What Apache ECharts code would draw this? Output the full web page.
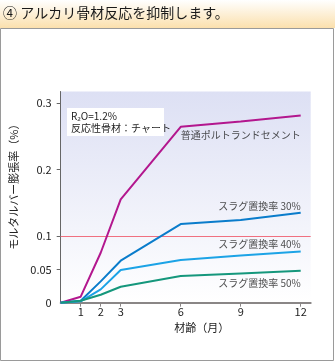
<!DOCTYPE html>
<html><head><meta charset="utf-8">
<script src="https://cdn.jsdelivr.net/npm/echarts@6/dist/echarts.min.js"></script>
<style>html,body{margin:0;padding:0;background:#fff}#c{width:335px;height:361px}</style>
</head><body><div id="c"></div>
<script>
const months = [0, 1, 2, 3, 6, 9, 12];
const opc = [0, 0.009, 0.075, 0.155, 0.264, 0.272, 0.281];
const slag30 = [0, 0.003, 0.032, 0.063, 0.118, 0.124, 0.135];
const slag40 = [0, 0.002, 0.020, 0.049, 0.064, 0.071, 0.077];
const slag50 = [0, 0.003, 0.012, 0.024, 0.040, 0.044, 0.048];
const seriesNames = ['普通ポルトランドセメント', 'スラグ置換率 30%', 'スラグ置換率 40%', 'スラグ置換率 50%'];
const xTicks = [1, 2, 3, 6, 9, 12];
const yTicks = [0, 0.05, 0.1, 0.2, 0.3];
const refLine = 0.1;
const titleText = '④ アルカリ骨材反応を抑制します。';
const noteLines = ['R₂O=1.2%', '反応性骨材：チャート'];

const font = '"Noto Sans CJK JP", "Noto Sans", sans-serif';
const colors = ['#b3178e', '#0a7ccb', '#1ca3e6', '#15977c'];
const labelDy = [20, -7, -7, 12];
const allData = [opc, slag30, slag40, slag50];

const chart = echarts.init(document.getElementById('c'), null, {renderer: 'canvas'});
const series = [];
allData.forEach((vals, i) => {
  series.push({
    type: 'line', name: seriesNames[i], data: months.map((m, k) => [m, vals[k]]),
    symbol: 'none', lineStyle: {color: colors[i], width: 2}, z: 5,
    markLine: i === 0 ? {silent: true, symbol: 'none', label: {show: false},
      lineStyle: {color: '#f07080', width: 1, type: 'solid'}, data: [{yAxis: refLine}]} : undefined
  });
  series.push({
    type: 'scatter', symbolSize: 0, silent: true, z: 6,
    data: [[months[months.length - 1], vals[vals.length - 1]]],
    label: {show: true, position: 'inside', align: 'right', verticalAlign: 'middle',
      offset: [0, labelDy[i]], formatter: seriesNames[i], color: '#222', fontSize: 10, fontFamily: font}
  });
});

chart.setOption({
  animation: false,
  textStyle: {fontFamily: font},
  graphic: [
    {type: 'rect', shape: {x: 0, y: 0, width: 335, height: 28}, silent: true, z: -10,
      style: {fill: new echarts.graphic.LinearGradient(0, 0, 0, 1, [{offset: 0, color: '#ffffff'}, {offset: 1, color: '#fbe0ad'}])}},
    {type: 'rect', shape: {x: 0.5, y: 28.5, width: 333, height: 332}, silent: true, z: -10,
      style: {fill: '#fff', stroke: '#9a9a9a', lineWidth: 1}},
    {type: 'text', left: 3, top: 6, silent: true,
      style: {text: titleText, fill: '#1a1a1a', font: '14px ' + font}},
    {type: 'group', left: 67, top: 108, silent: true, z: 10, children: [
      {type: 'rect', shape: {x: 0, y: 0, width: 97, height: 28}, style: {fill: '#fff'}},
      {type: 'text', x: 4, y: 2, style: {text: noteLines.join('\n'), fill: '#222', font: '10px ' + font, lineHeight: 12}}
    ]}
  ],
  grid: {left: 60.7, right: 24.3, top: 91.5, bottom: 58.3, show: true, borderWidth: 0,
    backgroundColor: new echarts.graphic.LinearGradient(0, 0, 0, 1, [{offset: 0, color: '#dde0f4'}, {offset: 1, color: '#ffffff'}])},
  xAxis: {
    type: 'value', min: 0, max: 12.5, interval: 1,
    name: '材齢（月）', nameLocation: 'middle', nameGap: 16,
    nameTextStyle: {color: '#222', fontSize: 11, padding: [0, 0, 0, 32]},
    axisLine: {show: true, lineStyle: {color: '#8a8686', width: 2}},
    axisTick: {show: true, customValues: xTicks, length: 4, lineStyle: {color: '#8a8686'}},
    axisLabel: {customValues: xTicks, color: '#222', fontSize: 11, margin: 4},
    splitLine: {show: false}
  },
  yAxis: {
    type: 'value', min: 0, max: 0.317, interval: 0.05,
    name: 'モルタルバー膨張率（%）', nameLocation: 'middle', nameGap: 38,
    nameTextStyle: {color: '#222', fontSize: 11, padding: [0, 0, 0, 26]},
    axisLine: {show: true, lineStyle: {color: '#666', width: 1}},
    axisTick: {show: true, customValues: yTicks.slice(1), length: 4, lineStyle: {color: '#666'}},
    axisLabel: {customValues: yTicks, color: '#222', fontSize: 11, margin: 9,
      formatter: v => String(+v.toFixed(2))},
    splitLine: {show: false}
  },
  series: series
});
</script></body></html>
